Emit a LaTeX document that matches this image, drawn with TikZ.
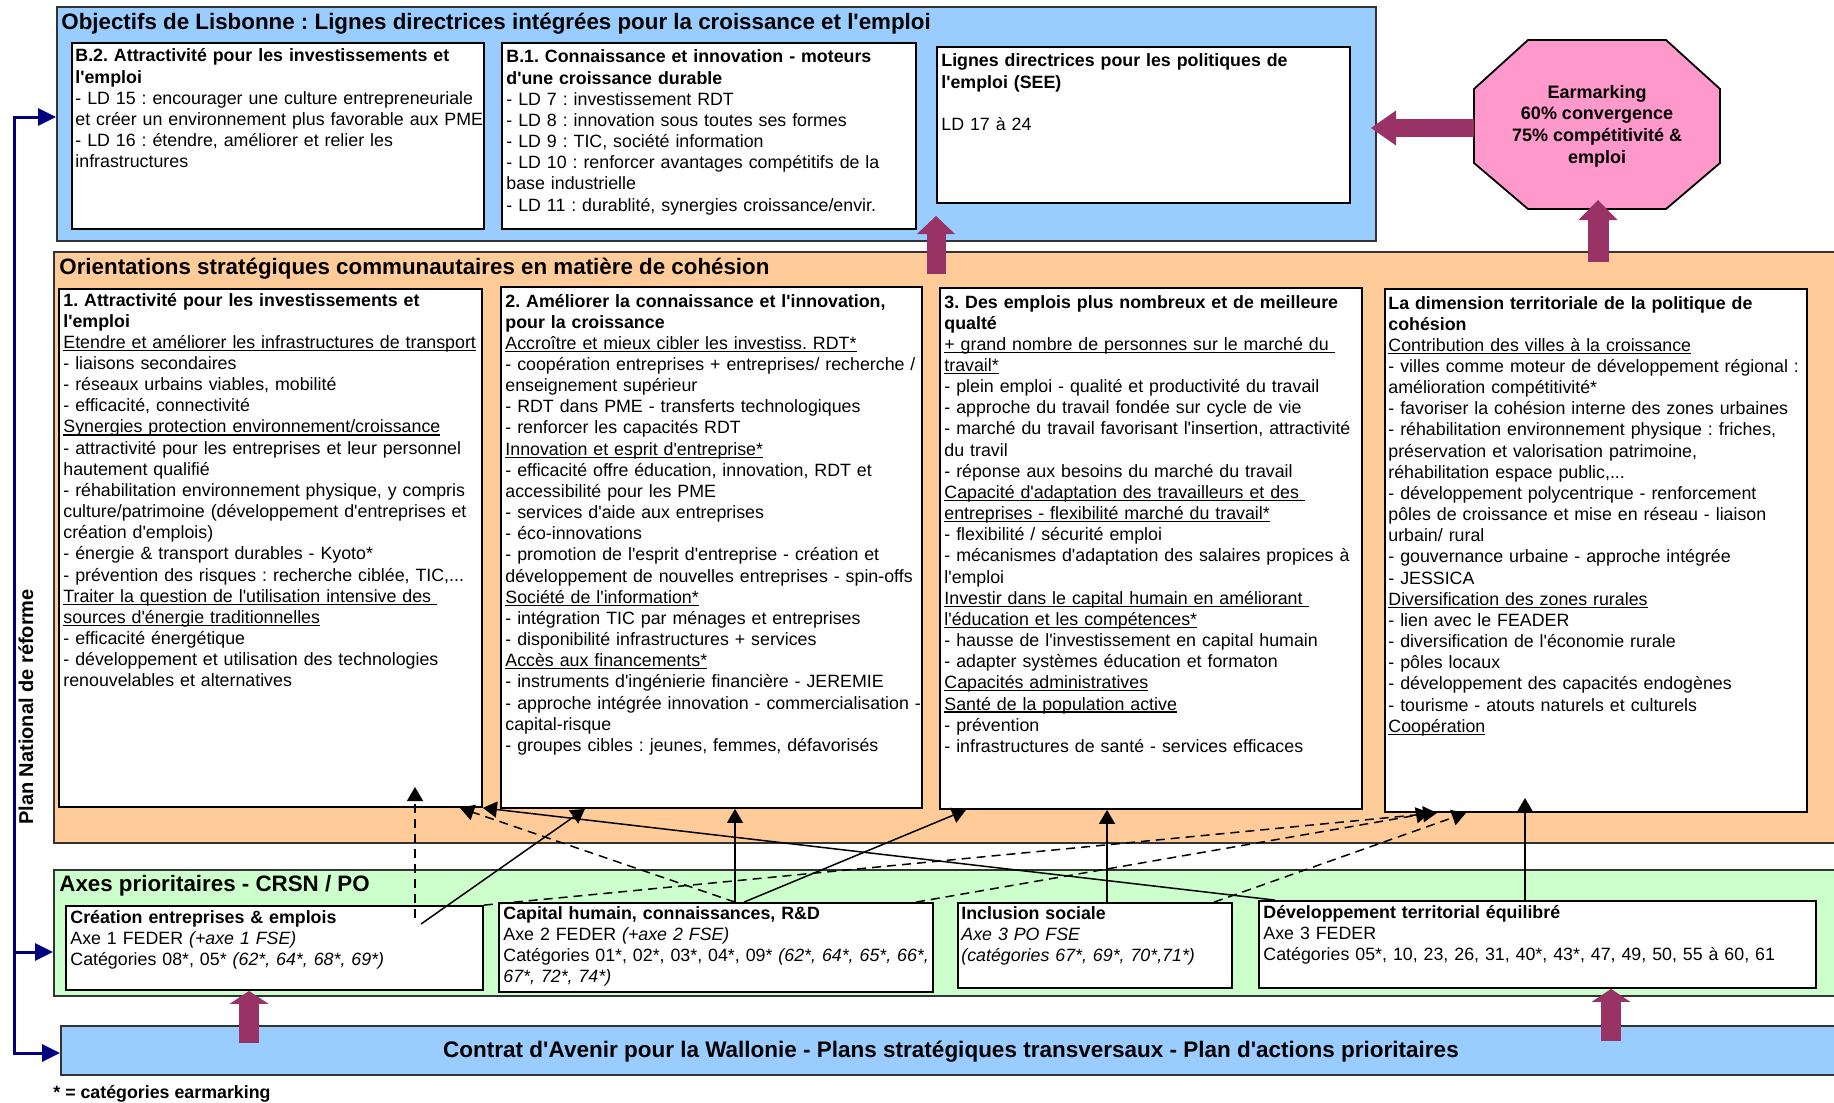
\documentclass[tikz,border=0pt]{standalone}
\usepackage{fontspec}
\setmainfont{Liberation Sans}[Ligatures=TeXOff]
\usetikzlibrary{arrows.meta,fit}

\definecolor{lisbblue}{HTML}{99CCFF}
\definecolor{orientorange}{HTML}{FFCC99}
\definecolor{axesgreen}{HTML}{CCFFCC}
\definecolor{earmpink}{HTML}{FF99CC}
\definecolor{armaroon}{HTML}{993366}
\definecolor{pnnavy}{HTML}{000080}
\definecolor{panelline}{HTML}{333333}

\frenchspacing
\newcommand\txtsize{\fontsize{8.9}{10.58}\selectfont}
\newcommand\hdsize{\fontsize{11.17}{13.5}\selectfont}
\newlength\ulwd
% underline at a fixed depth, descenders cross it
\newcommand\ulx[1]{\leavevmode\settowidth\ulwd{#1}\rlap{\rule[-1.3pt]{\ulwd}{0.6pt}}#1}

\tikzset{pntip/.tip={Triangle[length=9pt,width=8.5pt]}}

\begin{document}
\begin{tikzpicture}[x=0.5pt, y=-0.5pt,
  panel/.style={draw=panelline, line width=0.9pt, inner sep=0pt},
  card/.style={draw=black, line width=0.9pt, fill=white, inner sep=0pt},
  cardtext/.style={anchor=base west, inner sep=0pt, text width=300pt, align=left, font=\txtsize},
  paneltitle/.style={anchor=base west, inner sep=0pt, font=\hdsize\bfseries},
  conn/.style={draw=black, line width=0.75pt, -{Triangle[length=7pt,width=8pt]}},
  dashconn/.style={conn, dash pattern=on 4.5pt off 3pt},
  blockarrow/.style n args={3}{draw=armaroon, line width=#1, -{Triangle[length=#2,width=#3,line width=0pt]}},
  pnline/.style={draw=pnnavy, line width=1.5pt}
]
\useasboundingbox (0,0) rectangle (1834,1102);
\clip (0,0) rectangle (1834,1102);
\fill[white] (0,0) rectangle (1834,1102);

% ---------- panels ----------
\node[panel, fill=lisbblue, fit={(57,7) (1376,241)}] (lisbonne) {};
\node[panel, fill=orientorange, fit={(54,252) (1860,843)}] (orient) {};
\node[panel, fill=axesgreen, fit={(54,870) (1860,996)}] (axes) {};
\node[panel, fill=lisbblue, fit={(61,1026) (1860,1075)}] (contrat) {};

\node[paneltitle] (lisbtitle) at (61,30) {Objectifs de Lisbonne : Lignes directrices intégrées pour la croissance et l'emploi};
\node[paneltitle] (orienttitle) at (59,274) {Orientations stratégiques communautaires en matière de cohésion};
\node[paneltitle] (axestitle) at (59,891) {Axes prioritaires - CRSN / PO};
\node[font=\fontsize{11.25}{13.5}\selectfont\bfseries, anchor=base, inner sep=0pt] (contrattext) at (951,1057)
  {Contrat d'Avenir pour la Wallonie - Plans stratégiques transversaux - Plan d'actions prioritaires};

% ---------- Lisbon guidelines ----------
\node[card, fit={(72,43) (484,229)}] (ldb2) {};
\node[card, fit={(502,43) (916,229)}] (ldb1) {};
\node[card, fit={(937,47) (1350,203)}] (ldsee) {};

\node[cardtext] (ldb2text) at (75,62) {%
\textbf{B.2. Attractivité pour les investissements et}\\
\textbf{l'emploi}\\
- LD 15 : encourager une culture entrepreneuriale\\
et créer un environnement plus favorable aux PME\\
- LD 16 : étendre, améliorer et relier les\\
infrastructures};

\node[cardtext] (ldb1text) at (506,63) {%
\textbf{B.1. Connaissance et innovation - moteurs}\\
\textbf{d'une croissance durable}\\
- LD 7 : investissement RDT\\
- LD 8 : innovation sous toutes ses formes\\
- LD 9 : TIC, société information\\
- LD 10 : renforcer avantages compétitifs de la\\
base industrielle\\
- LD 11 : durablité, synergies croissance/envir.};

\node[cardtext] (ldseetext) at (941,67) {%
\textbf{Lignes directrices pour les politiques de}\\
\textbf{l'emploi (SEE)}\\
\mbox{}\\
LD 17 à 24};

% ---------- earmarking octagon ----------
\path[draw=black, line width=0.9pt, fill=earmpink]
  (1528,40) -- (1666,40) -- (1720,89) -- (1720,163) -- (1666,209)
  -- (1528,209) -- (1474,163) -- (1474,89) -- cycle;
\node[inner sep=0pt, fit={(1474,40) (1720,209)}] (earmbox) {};
\node[align=center, inner sep=0pt, font=\fontsize{9}{10.85}\selectfont\bfseries] (earmark) at (1597,126)
  {Earmarking\\60\% convergence\\75\% compétitivité \&\\emploi};

% ---------- community strategic guidelines ----------
\node[card, fit={(59,289) (482,807)}] (o1) {};
\node[card, fit={(501,287) (922,808)}] (o2) {};
\node[card, fit={(940,288) (1362,809)}] (o3) {};
\node[card, fit={(1385,289) (1807,812)}] (o4) {};

\node[cardtext] (o1text) at (63,306) {%
\textbf{1. Attractivité pour les investissements et}\\
\textbf{l'emploi}\\
\ulx{Etendre et améliorer les infrastructures de transport}\\
- liaisons secondaires\\
- réseaux urbains viables, mobilité\\
- efficacité, connectivité\\
\ulx{Synergies protection environnement/croissance}\\
- attractivité pour les entreprises et leur personnel\\
hautement qualifié\\
- réhabilitation environnement physique, y compris\\
culture/patrimoine (développement d'entreprises et\\
création d'emplois)\\
- énergie \& transport durables - Kyoto*\\
- prévention des risques : recherche ciblée, TIC,...\\
\ulx{Traiter la question de l'utilisation intensive des }\\
\ulx{sources d'énergie traditionnelles}\\
- efficacité énergétique\\
- développement et utilisation des technologies\\
renouvelables et alternatives};

\node[cardtext] (o2text) at (505,307) {%
\textbf{2. Améliorer la connaissance et l'innovation,}\\
\textbf{pour la croissance}\\
\ulx{Accroître et mieux cibler les investiss. RDT*}\\
- coopération entreprises + entreprises/ recherche /\\
enseignement supérieur\\
- RDT dans PME - transferts technologiques\\
- renforcer les capacités RDT\\
\ulx{Innovation et esprit d'entreprise*}\\
- efficacité offre éducation, innovation, RDT et\\
accessibilité pour les PME\\
- services d'aide aux entreprises\\
- éco-innovations\\
- promotion de l'esprit d'entreprise - création et\\
développement de nouvelles entreprises - spin-offs\\
\ulx{Société de l'information*}\\
- intégration TIC par ménages et entreprises\\
- disponibilité infrastructures + services\\
\ulx{Accès aux financements*}\\
- instruments d'ingénierie financière - JEREMIE\\
- approche intégrée innovation - commercialisation -\\
capital-risque\\
- groupes cibles : jeunes, femmes, défavorisés};

\node[cardtext] (o3text) at (944,308) {%
\textbf{3. Des emplois plus nombreux et de meilleure}\\
\textbf{qualté}\\
\ulx{+ grand nombre de personnes sur le marché du }\\
\ulx{travail*}\\
- plein emploi - qualité et productivité du travail\\
- approche du travail fondée sur cycle de vie\\
- marché du travail favorisant l'insertion, attractivité\\
du travil\\
- réponse aux besoins du marché du travail\\
\ulx{Capacité d'adaptation des travailleurs et des }\\
\ulx{entreprises - flexibilité marché du travail*}\\
- flexibilité / sécurité emploi\\
- mécanismes d'adaptation des salaires propices à\\
l'emploi\\
\ulx{Investir dans le capital humain en améliorant }\\
\ulx{l'éducation et les compétences*}\\
- hausse de l'investissement en capital humain\\
- adapter systèmes éducation et formaton\\
\ulx{Capacités administratives}\\
\ulx{Santé de la population active}\\
- prévention\\
- infrastructures de santé - services efficaces};

\node[cardtext] (o4text) at (1388,309) {%
\textbf{La dimension territoriale de la politique de}\\
\textbf{cohésion}\\
\ulx{Contribution des villes à la croissance}\\
- villes comme moteur de développement régional :\\
amélioration compétitivité*\\
- favoriser la cohésion interne des zones urbaines\\
- réhabilitation environnement physique : friches,\\
préservation et valorisation patrimoine,\\
réhabilitation espace public,...\\
- développement polycentrique - renforcement\\
pôles de croissance et mise en réseau - liaison\\
urbain/ rural\\
- gouvernance urbaine - approche intégrée\\
- JESSICA\\
\ulx{Diversification des zones rurales}\\
- lien avec le FEADER\\
- diversification de l'économie rurale\\
- pôles locaux\\
- développement des capacités endogènes\\
- tourisme - atouts naturels et culturels\\
\ulx{Coopération}};

% ---------- priority axes ----------
\node[card, fit={(66,906) (483,990)}] (a1) {};
\node[card, fit={(499,903) (933,992)}] (a2) {};
\node[card, fit={(958,903) (1232,988)}] (a3) {};
\node[card, fit={(1259,901) (1816,988)}] (a4) {};

\node[cardtext] (a1text) at (70,923) {%
\textbf{Création entreprises \& emplois}\\
Axe 1 FEDER \textit{(+axe 1 FSE)}\\
Catégories 08*, 05* \textit{(62*, 64*, 68*, 69*)}};

\node[cardtext] (a2text) at (503,919) {%
\textbf{Capital humain, connaissances, R\&D}\\
Axe 2 FEDER \textit{(+axe 2 FSE)}\\
Catégories 01*, 02*, 03*, 04*, 09* \textit{(62*, 64*, 65*, 66*,}\\
\textit{67*, 72*, 74*)}};

\node[cardtext] (a3text) at (961,919) {%
\textbf{Inclusion sociale}\\
\textit{Axe 3 PO FSE}\\
\textit{(catégories 67*, 69*, 70*,71*)}};

\node[cardtext] (a4text) at (1263,918) {%
\textbf{Développement territorial équilibré}\\
Axe 3 FEDER\\
Catégories 05*, 10, 23, 26, 31, 40*, 43*, 47, 49, 50, 55 à 60, 61};

% ---------- links from axes to guidelines ----------
\coordinate (s1) at (415,918);
\coordinate (t1) at (415,787);
\coordinate (s2) at (421,924);
\coordinate (t11) at (1525,798);

\draw[dashconn] (s1) -- (t1);
\draw[conn] (s2) -- (o2.south -| 585,0);
\draw[dashconn] (a2.north -| 735,0) -- (o1.south -| 460,0);
\draw[conn] (a4.north -| 1275,0) -- (o1.south east);
\draw[conn] (a2.north -| 735,0) -- (o2.south -| 735,0);
\draw[conn] (a2.north -| 744,0) -- (o3.south -| 966,0);
\draw[dashconn] (a1.north east) -- (o4.south -| 1437,0);
\draw[dashconn] (a2.north -| 916,0) -- (o4.south -| 1430,0);
\draw[dashconn] (a3.north -| 1214,0) -- (o4.south -| 1466,0);
\draw[conn] (a3.north -| 1107,0) -- (o3.south -| 1107,0);
\draw[conn] (a4.north -| 1525,0) -- (t11);

% ---------- block arrows ----------
\coordinate (seetip) at (1371,128);
\coordinate (u1tail) at (936,274);
\coordinate (u1tip) at (936,216);
\coordinate (u2tail) at (1598,262);
\coordinate (u2tip) at (1598,200);
\coordinate (d1tail) at (249,1043);
\coordinate (d2tail) at (1611,1041);

\draw[blockarrow={9pt}{12.5pt}{17.5pt}] (earmbox.west |- seetip) -- (seetip);
\draw[blockarrow={9.5pt}{9pt}{19pt}] (u1tail) -- (u1tip);
\draw[blockarrow={10.5pt}{10pt}{19.5pt}] (u2tail) -- (u2tip);
\draw[blockarrow={10pt}{6.5pt}{19.5pt}] (d1tail) -- (a1.south -| d1tail);
\draw[blockarrow={10pt}{6.5pt}{19.5pt}] (d2tail) -- (a4.south -| d2tail);

% ---------- national reform plan ----------
\coordinate (pntop) at (14,117);
\coordinate (pnmid) at (14,952);
\coordinate (pnbot) at (14,1053);
\draw[pnline, {pntip}-{pntip}] (lisbonne.west |- pntop) -- (pntop) -- (pnbot) -- (contrat.west |- pnbot);
\draw[pnline, -{pntip}] (pnmid) -- (axes.west |- pnmid);
\node[rotate=90, inner sep=0pt, font=\fontsize{10}{12}\selectfont\bfseries] (pnlabel) at (26,707) {Plan National de réforme};

\node[anchor=base west, inner sep=0pt, font=\txtsize\bfseries] (footnote) at (53,1098) {* = catégories earmarking};
\end{tikzpicture}
\end{document}
